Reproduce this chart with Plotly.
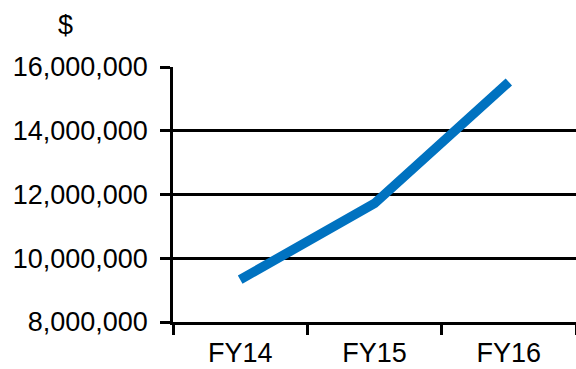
import plotly.graph_objects as go

# Annual totals in dollars by fiscal year
years = ["FY14", "FY15", "FY16"]
totals = [9_330_000, 11_720_000, 15_530_000]

y_ticks = [8_000_000, 10_000_000, 12_000_000, 14_000_000, 16_000_000]
y_tick_text = [f"{v:,}" for v in y_ticks]

font_family = "Liberation Sans, Arial, Helvetica, sans-serif"

fig = go.Figure(
    go.Scatter(
        x=years,
        y=totals,
        mode="lines",
        line=dict(color="#0072C0", width=9.5),
        hoverinfo="skip",
    )
)

fig.update_layout(
    width=576,
    height=369,
    margin=dict(l=173, r=0, t=67, b=47),
    paper_bgcolor="white",
    plot_bgcolor="white",
    showlegend=False,
    font=dict(family=font_family, size=27, color="black"),
    annotations=[
        dict(
            text="$",
            xref="paper",
            yref="paper",
            x=(65 - 173) / 403,
            y=1 + (67 - 25) / 255,
            xanchor="center",
            yanchor="middle",
            showarrow=False,
            font=dict(family=font_family, size=27, color="black"),
        )
    ],
)

fig.update_xaxes(
    type="category",
    range=[-0.5, 2.5],
    automargin=False,
    tickson="boundaries",
    ticks="outside",
    ticklen=10,
    tickwidth=2.5,
    tickcolor="black",
    ticklabelstandoff=5,
    showline=True,
    linecolor="black",
    linewidth=2.5,
    showgrid=False,
    zeroline=False,
    tickfont=dict(size=27),
)

fig.update_yaxes(
    range=[8_000_000, 16_000_000],
    automargin=False,
    tickvals=y_ticks,
    ticktext=y_tick_text,
    ticks="outside",
    ticklen=10,
    tickwidth=2.5,
    tickcolor="black",
    ticklabelstandoff=7,
    showline=True,
    linecolor="black",
    linewidth=2.5,
    showgrid=True,
    gridcolor="black",
    gridwidth=2.5,
    zeroline=False,
    tickfont=dict(size=27),
)

fig.write_html("out.html")
